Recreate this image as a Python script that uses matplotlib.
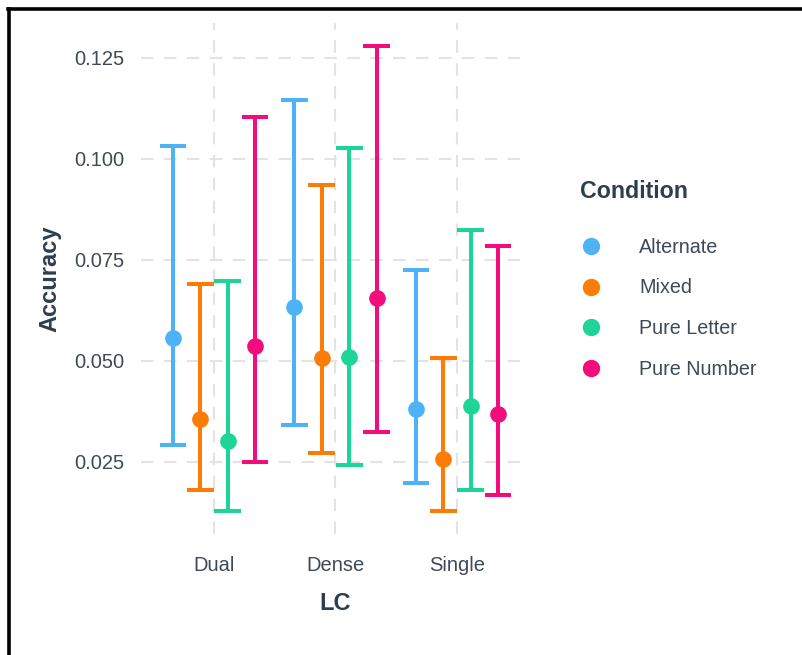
import matplotlib.pyplot as plt
from matplotlib.lines import Line2D
import numpy as np

plt.rcParams['font.family'] = ['Liberation Sans', 'DejaVu Sans']

# accuracy estimates with 95% interval, per LC level and condition
lc_levels = ['Dual', 'Dense', 'Single']
conditions = ['Alternate', 'Mixed', 'Pure Letter', 'Pure Number']

acc_mean = {
    'Alternate':   [0.0556, 0.0633, 0.0380],
    'Mixed':       [0.0356, 0.0505, 0.0256],
    'Pure Letter': [0.0302, 0.0508, 0.0388],
    'Pure Number': [0.0535, 0.0654, 0.0368],
}
acc_lower = {
    'Alternate':   [0.0291, 0.0340, 0.0196],
    'Mixed':       [0.0180, 0.0271, 0.0128],
    'Pure Letter': [0.0128, 0.0242, 0.0180],
    'Pure Number': [0.0250, 0.0323, 0.0166],
}
acc_upper = {
    'Alternate':   [0.1031, 0.1145, 0.0725],
    'Mixed':       [0.0690, 0.0934, 0.0505],
    'Pure Letter': [0.0698, 0.1026, 0.0822],
    'Pure Number': [0.1102, 0.1278, 0.0783],
}
colors = ['#4DB3F6', '#FB7D07', '#1DD597', '#F20C7C']

title_col = '#2C3E50'
tick_col = '#3E4A56'

fig = plt.figure(figsize=(8.03, 6.55), dpi=100)
ax = fig.add_axes([0.1756, 0.1847, 0.4844, 0.7802])

dodge = 0.225
cap_w = 0.11
x_base = np.arange(1, len(lc_levels) + 1)
handles = []
for i, cond in enumerate(conditions):
    xs = x_base + (i - 1.5) * dodge
    lo = np.array(acc_lower[cond])
    hi = np.array(acc_upper[cond])
    ax.vlines(xs, lo, hi, color=colors[i], lw=2.9, zorder=3)
    ax.hlines(lo, xs - cap_w, xs + cap_w, color=colors[i], lw=2.9, zorder=3)
    ax.hlines(hi, xs - cap_w, xs + cap_w, color=colors[i], lw=2.9, zorder=3)
    ax.plot(xs, acc_mean[cond], 'o', color=colors[i], ms=12, mec='none', zorder=4)
    handles.append(Line2D([], [], marker='o', ls='none', color=colors[i], ms=12.5, mec='none', label=cond))

# ggplot-like padding around the data
all_lo = min(min(v) for v in acc_lower.values())
all_hi = max(max(v) for v in acc_upper.values())
span = all_hi - all_lo
ax.set_ylim(all_lo - 0.05 * span, all_hi + 0.05 * span)
ax.set_xlim(0.4, 3.6)

ax.set_xticks(x_base)
ax.set_xticklabels(lc_levels)
yt = [0.025, 0.050, 0.075, 0.100, 0.125]
ax.set_yticks(yt)
ax.set_yticklabels([f'{v:.3f}' for v in yt])
ax.tick_params(length=0, labelsize=14.5, labelcolor=tick_col)
ax.tick_params(axis='x', pad=16)
ax.tick_params(axis='y', pad=12)

ax.grid(True, color='#E3E3E3', lw=1.5, ls=(0, (6, 5)), zorder=0)
for s in ax.spines.values():
    s.set_visible(False)

ax.set_xlabel('LC', fontsize=17, fontweight='bold', color=title_col, labelpad=12)
ax.set_ylabel('Accuracy', fontsize=17, fontweight='bold', color=title_col, labelpad=9)

# legend entries, title placed on its own above them
leg = fig.legend(handles=handles, loc='upper left',
                 bbox_to_anchor=(0.714, 0.649), frameon=False,
                 fontsize=14.2, handlelength=1.0,
                 handletextpad=1.95, labelspacing=1.1, borderaxespad=0)
for t in leg.get_texts():
    t.set_color(tick_col)
fig.text(580 / 803, 1 - 192 / 655, 'Condition', fontsize=16.7, fontweight='bold',
         color=title_col, ha='left', va='center')

# frame edges of the exported figure
fig.add_artist(Line2D([0.0112, 0.0112], [0, 0.987], color='black', lw=2.6, transform=fig.transFigure))
fig.add_artist(Line2D([0.0100, 1.0], [0.986, 0.986], color='black', lw=2.6, transform=fig.transFigure))

fig.savefig('out.png', dpi=100)
